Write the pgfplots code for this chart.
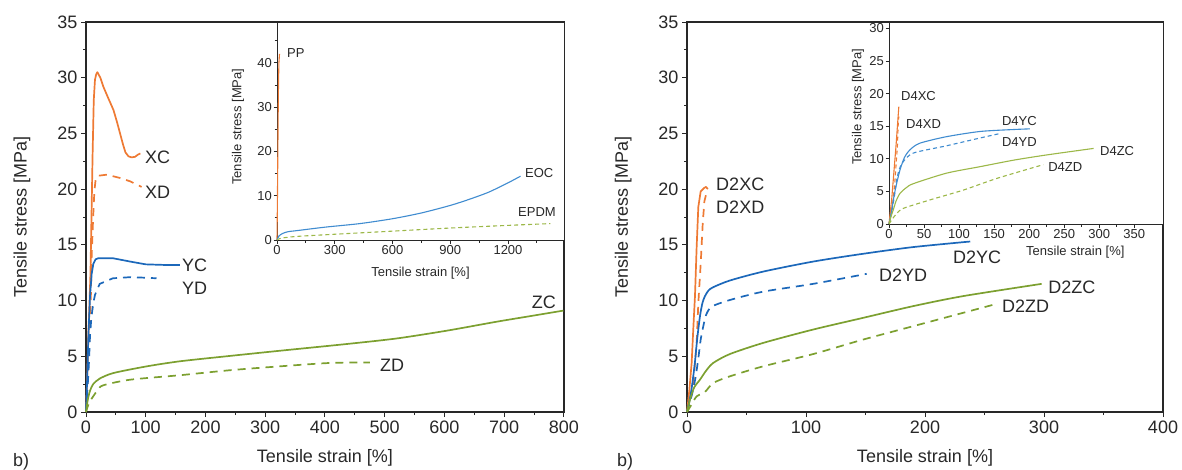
\documentclass[border=0pt]{standalone}
\usepackage{fontspec}
\setmainfont{Liberation Sans}
\usepackage{pgfplots}
\pgfplotsset{compat=1.18}
\definecolor{cor}{RGB}{238,122,52}
\definecolor{cbl}{RGB}{28,104,186}
\definecolor{cgr}{RGB}{124,160,48}
\definecolor{cblL}{RGB}{64,140,208}
\definecolor{cgrL}{RGB}{156,184,72}
\definecolor{ctx}{RGB}{40,40,40}
\tikzset{
  labM/.style={anchor=west, font=\fontsize{18}{20}\selectfont, text=ctx, inner sep=0pt},
  labI/.style={anchor=west, font=\fontsize{13}{15}\selectfont, text=ctx, inner sep=0pt},
}
\pgfplotsset{
  mainax/.style={scale only axis, anchor=south west, height=390pt, clip=false,
    axis line style={line width=1.2pt, ctx}, tick style={line width=1pt, ctx},
    major tick length=5pt, minor tick length=3pt, tick align=outside, tick pos=left,
    ticklabel style={font=\fontsize{18}{20}\selectfont, text=ctx},
    /pgf/number format/assume math mode=true, /pgf/number format/1000 sep={},
    ymin=0, ymax=35, ytick={0,5,...,35}, minor y tick num=1,
    every axis y label/.style={at={(axis description cs:-0.134,0.5)}, rotate=90, anchor=center, font=\fontsize{18}{21}\selectfont, text=ctx},
    every axis x label/.style={at={(axis description cs:0.5,-0.118)}, anchor=center, font=\fontsize{18}{21}\selectfont, text=ctx},
    xlabel={Tensile strain [\%]}, ylabel={Tensile stress [MPa]}},
  inax/.style={scale only axis, anchor=south west, clip=false,
    axis background/.style={fill=white},
    axis line style={line width=0.9pt, ctx}, tick style={line width=0.8pt, ctx},
    major tick length=3.5pt, minor tick length=2.5pt, tick align=outside, tick pos=left,
    ticklabel style={font=\fontsize{13}{15}\selectfont, text=ctx, inner sep=1.5pt},
    /pgf/number format/assume math mode=true, /pgf/number format/1000 sep={},
    ymin=0, xmin=0,
    every axis y label/.style={rotate=90, anchor=center, font=\fontsize{13}{15}\selectfont, text=ctx},
    every axis x label/.style={anchor=center, font=\fontsize{13}{15}\selectfont, text=ctx},
    xlabel={Tensile strain [\%]}, ylabel={Tensile stress [MPa]}},
  solidM/.style={line width=1.7pt, line join=round},
  dashM/.style={line width=1.7pt, dash pattern=on 8pt off 6pt},
  solidI/.style={line width=1.1pt, line join=round},
  dashI/.style={line width=1.1pt, dash pattern=on 4pt off 3pt},
  sm/.style={smooth, tension=0.45},
}
\begin{document}
\begin{tikzpicture}[x=1pt,y=1pt]
\useasboundingbox (0,0) rectangle (1182,469);
% ---------------- left main
\begin{axis}[mainax, at={(86pt,57pt)}, width=478pt, xmin=0, xmax=800, xtick={0,100,...,800}, minor x tick num=1]
\addplot[cor, solidM] coordinates {(0,0) (2,3) (4,7) (6,10) (7.5,12.5) (9,17) (11,23) (13,28) (15,29.8) (17,30.3) (19,30.5) (24,30) (29,29.2) (37,28.2) (46,27.1) (52,26) (57,25) (62,24) (66,23.3) (71,22.95) (76,22.85) (82,22.9) (87,23.1) (91,23.2)};
\addplot[cor, dashM] coordinates {(0,0) (3,3) (6,7) (8,10) (9.5,14) (12,17.5) (14,19.8) (16,20.8) (20,21.2) (35,21.3) (57,21.0) (74,20.7) (93,20.2)};
\addplot[cbl, solidM] coordinates {(0,0) (2,3) (4,6.8) (6.7,10.4) (9.5,12.4) (12.3,13.3) (16,13.7) (20.6,13.8) (45,13.8) (74,13.5) (100,13.25) (130,13.2) (157,13.2)};
\addplot[cbl, dashM] coordinates {(0,0) (3,2.5) (5,4.5) (6.7,6.8) (9,8.5) (12.3,9.8) (15,10.5) (18,10.9) (23,11.5) (45,12.0) (74,12.1) (100,12.05) (118,12.0)};
\addplot[cgr, solidM, sm] coordinates {(0,0) (3,1.1) (6.7,1.9) (12,2.5) (23,3.0) (46,3.5) (102,4.1) (157,4.55) (235,5.0) (325,5.5) (436,6.1) (520,6.6) (604,7.3) (687,8.1) (743,8.6) (799,9.1)};
\addplot[cgr, dashM, sm] coordinates {(0,0) (5,0.8) (12,1.4) (20,2.0) (29,2.4) (74,2.9) (157,3.3) (241,3.75) (325,4.1) (408,4.4) (475,4.45)};
\node[labM] at (axis cs:98.7,22.9) {XC};
\node[labM] at (axis cs:98.7,19.7) {XD};
\node[labM] at (axis cs:160.7,13.2) {YC};
\node[labM] at (axis cs:160.7,11.1) {YD};
\node[labM] at (axis cs:746,9.87) {ZC};
\node[labM] at (axis cs:492,4.2) {ZD};
\end{axis}
% ---------------- left inset
\begin{axis}[inax, at={(277pt,229pt)}, width=287pt, height=218pt, xmax=1491, ymax=49.2,
  xtick={0,300,...,1200}, minor xtick={150,450,750,1050,1350}, ytick={0,10,...,40}, minor ytick={5,15,25,35,45},
  every axis y label/.append style={at={(axis description cs:-0.136,0.52)}},
  every axis x label/.append style={at={(axis description cs:0.5,-0.15)}}]
\addplot[cor, solidI] coordinates {(0,0) (2,8) (4,18) (6,28) (8,36) (10,40) (13,42)};
\addplot[cblL, solidI, sm] coordinates {(0,0) (10,0.9) (30,1.5) (60,1.9) (100,2.1) (250,2.9) (430,3.7) (600,4.8) (750,6.1) (900,7.8) (1000,9.2) (1100,10.8) (1200,12.9) (1265,14.4)};
\addplot[cgrL, dashI, sm] coordinates {(0,0) (20,0.4) (100,0.8) (300,1.3) (600,2.0) (900,2.7) (1200,3.3) (1420,3.7)};
\node[labI] at (axis cs:52,42.2) {PP};
\node[labI] at (axis cs:1288,15.1) {EOC};
\node[labI] at (axis cs:1252,6.3) {EPDM};
\end{axis}
% ---------------- right main
\begin{axis}[mainax, at={(687pt,57pt)}, width=476pt, xmin=0, xmax=400, xtick={0,100,...,400}, minor x tick num=1]
\addplot[cor, solidM] coordinates {(0,0) (2,2) (3.9,4.4) (5.3,7.5) (6.7,10.4) (8.1,14.8) (9.5,18.4) (11.5,19.8) (14.3,20.1) (16,20.2) (17.5,20.0)};
\addplot[cor, dashM] coordinates {(0,0) (3,1.5) (5.3,2.6) (8.1,6.2) (9.5,9.75) (11.5,13.3) (13.2,16.9) (14.6,18.9) (16,19.5)};
\addplot[cbl, solidM, sm] coordinates {(0,0) (3,1.5) (5,3) (6.7,4.5) (8.5,6.5) (10.9,8.6) (13,9.8) (15.1,10.4) (18,10.9) (22,11.2) (36,11.8) (64,12.6) (106,13.5) (148,14.2) (190,14.8) (238,15.3)};
\addplot[cbl, dashM, sm] coordinates {(0,0) (4,1.5) (7,3) (9.5,4.8) (11.5,6.5) (13.7,7.7) (16,8.7) (20.7,9.45) (36,10.05) (64,10.8) (106,11.5) (151,12.4)};
\addplot[cgr, solidM, sm] coordinates {(0,0) (2.5,1.1) (6,2.2) (10.9,2.9) (16,3.7) (22,4.4) (36,5.2) (64,6.2) (106,7.4) (148,8.45) (190,9.5) (232,10.4) (298,11.5)};
\addplot[cgr, dashM, sm] coordinates {(0,0) (4,0.7) (8.1,1.4) (15.1,1.8) (22,2.6) (36,3.2) (64,4.1) (106,5.2) (148,6.5) (190,7.7) (232,8.9) (260,9.7)};
\node[labM] at (axis cs:24.4,20.4) {D2XC};
\node[labM] at (axis cs:24.4,18.4) {D2XD};
\node[labM] at (axis cs:223.5,13.9) {D2YC};
\node[labM] at (axis cs:161.3,12.3) {D2YD};
\node[labM] at (axis cs:303.4,11.2) {D2ZC};
\node[labM] at (axis cs:264.7,9.5) {D2ZD};
\end{axis}
% ---------------- right inset
\begin{axis}[inax, at={(889pt,245pt)}, width=274pt, height=202pt, xmax=391, ymax=31,
  xtick={0,50,...,350}, minor x tick num=1, ytick={0,5,...,30},
  every axis y label/.append style={at={(axis description cs:-0.113,0.58)}},
  every axis x label/.append style={at={(axis description cs:0.68,-0.14)}}]
\addplot[cor, solidI] coordinates {(0,0) (4,4) (7,8) (10,12) (12,15) (14,18)};
\addplot[cor, dashI] coordinates {(0,0) (5,3) (8,6) (10,9) (12,12) (13,15) (14,16.5)};
\addplot[cblL, solidI, sm] coordinates {(0,0) (3,1.5) (6.2,3.7) (10,5.8) (15.7,8.3) (22,10.2) (30,11.4) (44,12.4) (82,13.4) (130,14.2) (178,14.5) (201,14.6)};
\addplot[cblL, dashI, sm] coordinates {(0,0) (5,2.5) (8,4.5) (11,6.8) (15,8.5) (20.5,9.6) (35,10.9) (82,12.0) (130,13.2) (159,13.9)};
\addplot[cgrL, solidI, sm] coordinates {(0,0) (3,1.2) (6.2,2.2) (10,3.5) (15.7,4.7) (25,5.6) (35,6.2) (82,7.8) (130,8.8) (178,9.8) (225,10.6) (292,11.6)};
\addplot[cgrL, dashI, sm] coordinates {(0,0) (5,0.8) (11,1.6) (20.5,2.4) (58.6,3.7) (106,5.2) (154,7.0) (220,9.1)};
\node[labI] at (axis cs:17.1,19.7) {D4XC};
\node[labI] at (axis cs:24.3,15.4) {D4XD};
\node[labI] at (axis cs:161,15.8) {D4YC};
\node[labI] at (axis cs:161,12.6) {D4YD};
\node[labI] at (axis cs:301,11.2) {D4ZC};
\node[labI] at (axis cs:227,8.8) {D4ZD};
\end{axis}
\node[anchor=west, font=\fontsize{18}{20}\selectfont, text=ctx, inner sep=0pt] at (13pt,7pt) {b)};
\node[anchor=west, font=\fontsize{18}{20}\selectfont, text=ctx, inner sep=0pt] at (617pt,7pt) {b)};
\end{tikzpicture}
\end{document}
